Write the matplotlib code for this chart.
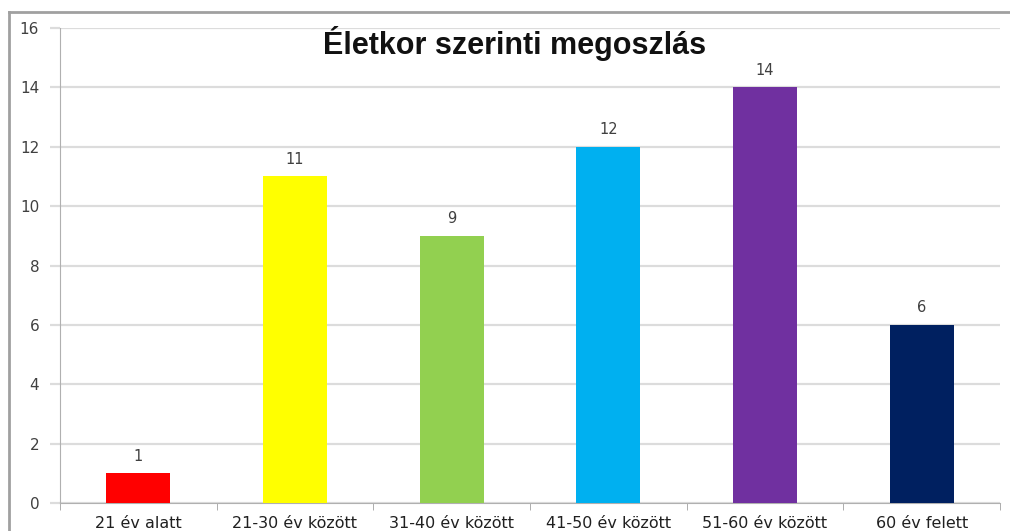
import matplotlib.pyplot as plt
from matplotlib.lines import Line2D
import numpy as np

categories = ["21 év alatt", "21-30 év között", "31-40 év között",
              "41-50 év között", "51-60 év között", "60 év felett"]
values = [1, 11, 9, 12, 14, 6]
bar_colors = ["#FF0000", "#FFFF00", "#92D050", "#00B0F0", "#7030A0", "#002060"]
title = "Életkor szerinti megoszlás"

W, H = 1010, 531
fig = plt.figure(figsize=(W / 100, H / 100), dpi=100)
ax = fig.add_axes([60 / W, 28 / H, 940 / W, 475 / H])

x = np.arange(len(categories))
ax.bar(x, values, width=0.41, color=bar_colors, zorder=3)
for xi, v in zip(x, values):
    ax.annotate(str(v), (xi, v), xytext=(0, 7), textcoords="offset points",
                ha="center", va="bottom", fontsize=10.5, color="#404040")

ax.set_xlim(-0.5, len(categories) - 0.5)
ax.set_ylim(0, 16)
ax.set_yticks(np.arange(0, 17, 2))
ax.yaxis.grid(True, color="#dcdcdc", linewidth=1.6, zorder=0)
ax.tick_params(axis="y", length=7, width=1.6, color="#dcdcdc", labelsize=11,
               labelcolor="#404040", pad=8)

ax.set_xticks(x)
ax.set_xticklabels(categories, fontsize=11.5, color="#202020")
ax.set_xticks(np.arange(-0.5, len(categories), 1), minor=True)
ax.tick_params(axis="x", which="major", length=0, pad=9)
ax.tick_params(axis="x", which="minor", length=5, color="#a0a0a0")

for s in ["top", "right"]:
    ax.spines[s].set_visible(False)
ax.spines["left"].set_color("#b0b0b0")
ax.spines["bottom"].set_color("#b0b0b0")

fig.text(515 / W, 1 - 26 / H, title, ha="center", va="top",
         fontsize=22, fontweight="bold", family="Liberation Sans", color="#111111")

# outer frame of the chart object
fig.add_artist(Line2D([9 / W, 9 / W], [0, 1 - 12 / H], color="#a0a0a0", linewidth=2))
fig.add_artist(Line2D([9 / W, 1], [1 - 12 / H, 1 - 12 / H], color="#a0a0a0", linewidth=2))

fig.savefig("out.png", dpi=100)
